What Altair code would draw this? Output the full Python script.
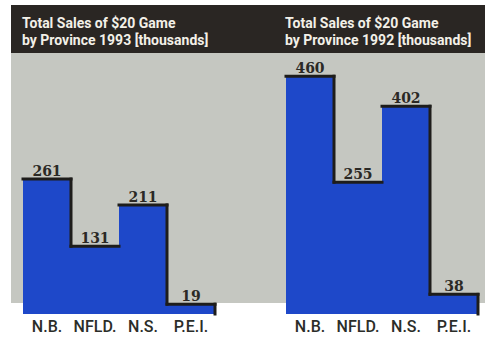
import altair as alt
import pandas as pd

# Sales figures (thousands) per province
provinces = ["N.B.", "NFLD.", "N.S.", "P.E.I."]
sales_1993 = [261, 131, 211, 19]
sales_1992 = [460, 255, 402, 38]
title_1993 = ["Total Sales of  $20 Game", "by Province 1993 [thousands]"]
title_1992 = ["Total Sales of  $20 Game", "by Province 1992 [thousands]"]

BLUE = "#1e48c9"
INK = "#1e1d1b"
GREY = "#c5c7c1"
BAND = "#2a2623"
HEAD_TEXT = "#f3f0e8"
LABEL_INK = "#2b2d29"

PANEL_W = 237
PANEL_H = 261
BAND_H = 48
BAR_PX = 48          # width of one bar in pixels
SHADE_GAP = 11       # bars run a little below the grey backdrop
Y_MAX = 505

SANS = "Roboto"
SERIF = "DejaVu Serif"


def step_frame(values):
    df = pd.DataFrame({"province": provinces, "sales": values})
    df["left"] = range(len(values))
    df["right"] = df["left"] + 1
    df["center"] = df["left"] + 0.5
    following = list(values[1:]) + [0]
    # right-hand outline of each bar drops to the next (lower) bar or the baseline
    df["edge_to"] = [min(v, f) for v, f in zip(values, following)]
    return df


def panel(values, title_lines, lead_px):
    df = step_frame(values)
    n = len(values)
    trail_px = PANEL_W - lead_px - n * BAR_PX
    x_scale = alt.Scale(domain=[-lead_px / BAR_PX, n + trail_px / BAR_PX], nice=False, zero=False)
    y_scale = alt.Scale(domain=[0, Y_MAX], nice=False)

    one = pd.DataFrame({"k": [0]})
    shade = alt.Chart(one).mark_rect(color=GREY).encode(
        x=alt.value(0), x2=alt.value(PANEL_W), y=alt.value(0), y2=alt.value(PANEL_H - SHADE_GAP)
    )
    band = alt.Chart(one).mark_rect(color=BAND).encode(
        x=alt.value(0), x2=alt.value(PANEL_W), y=alt.value(-BAND_H), y2=alt.value(0)
    )
    heading = alt.Chart(one).mark_text(
        text=title_lines,
        align="left",
        baseline="alphabetic",
        font=SANS,
        fontWeight="bold",
        fontSize=14,
        lineHeight=17,
        color=HEAD_TEXT,
    ).encode(x=alt.value(lead_px - 1), y=alt.value(-25))

    base = alt.Chart(df)
    bars = base.mark_rect(color=BLUE).encode(
        x=alt.X("left:Q", scale=x_scale, axis=None),
        x2="right:Q",
        y=alt.Y("sales:Q", scale=y_scale, axis=None),
        y2=alt.datum(0),
    )
    tops = base.mark_rule(color=INK, strokeWidth=3, strokeCap="square").encode(
        x=alt.X("left:Q", axis=None),
        x2="right:Q",
        y=alt.Y("sales:Q", axis=None),
    )
    edges = base.transform_filter("datum.edge_to < datum.sales").mark_rule(
        color=INK, strokeWidth=3, strokeCap="square"
    ).encode(
        x=alt.X("right:Q", axis=None),
        y=alt.Y("sales:Q", axis=None),
        y2="edge_to:Q",
    )
    values_text = base.mark_text(
        font=SERIF, fontWeight="bold", fontSize=14, color="#2b2925", baseline="alphabetic", dy=-3
    ).encode(
        x=alt.X("center:Q", axis=None),
        y=alt.Y("sales:Q", axis=None),
        text="sales:Q",
    )
    names = base.mark_text(
        font=SANS, fontSize=16, fontWeight=500, color=LABEL_INK, baseline="top", dy=5
    ).encode(
        x=alt.X("center:Q", axis=None),
        y=alt.datum(0),
        text="province:N",
    )
    return alt.layer(shade, band, bars, tops, edges, values_text, names, heading).properties(
        width=PANEL_W, height=PANEL_H
    )


chart = (
    alt.hconcat(
        panel(sales_1993, title_1993, 12),
        panel(sales_1992, title_1992, 38),
        spacing=0,
    )
    .properties(padding={"left": 11, "top": 5, "right": 5, "bottom": 5}, background="white")
    .configure_view(stroke=None)
)

chart.save("out.html", embed_options={"renderer": "svg", "actions": False})
